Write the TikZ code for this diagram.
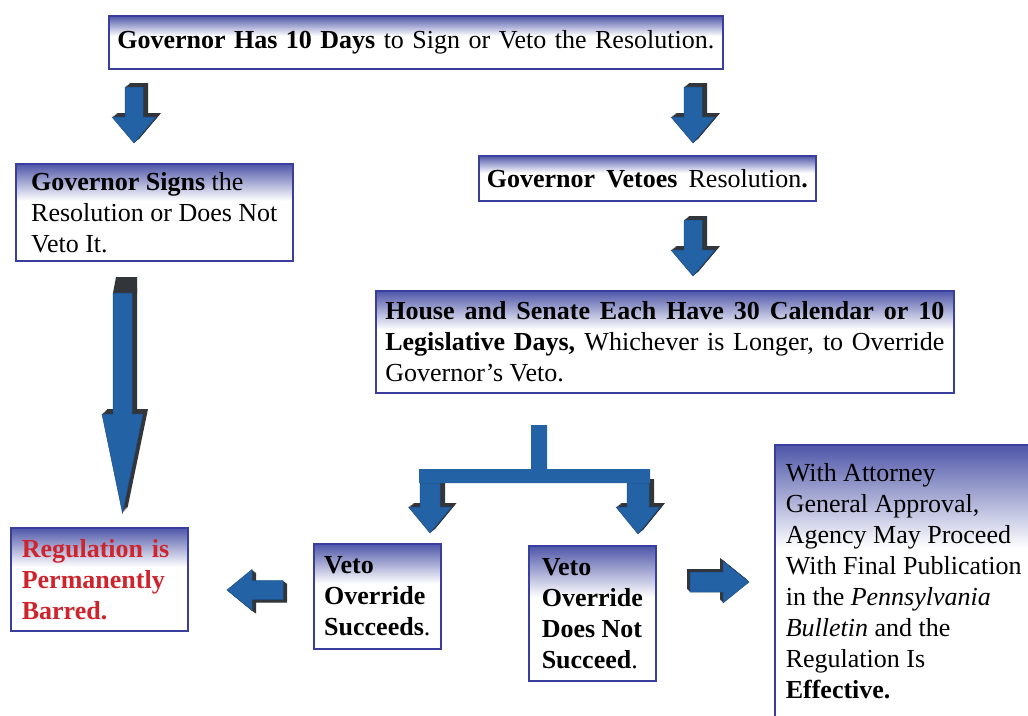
\documentclass[tikz,border=0pt]{standalone}
\usepackage{fontspec}
\setmainfont{Liberation Serif}
\definecolor{boxline}{RGB}{58,62,158}
\definecolor{boxtop}{RGB}{78,86,168}
\definecolor{arrowblue}{RGB}{36,98,166}
\definecolor{arrowdepth}{RGB}{50,53,58}
\definecolor{barredred}{RGB}{208,36,44}
\pgfdeclareverticalshading{boxfade}{100bp}{color(0bp)=(white); color(25bp)=(white); color(56bp)=(white); color(75bp)=(boxtop); color(100bp)=(boxtop)}
\tikzset{stepbox/.style={draw=boxline, line width=1.6pt, shade, shading=boxfade, anchor=north west, inner sep=0pt, align=left, font=\fontsize{26}{31}\selectfont}}
\tikzset{arrowbody/.style={fill=arrowblue, draw=arrowblue!80!black, line width=0.5pt}}
\tikzset{arrowshade/.style={fill=arrowdepth}}
% start, angle, head, tip, half shaft, half head, depth x, depth y
\newcommand{\blockarrow}[8]{%
    \foreach \k in {1,...,6}
        \fill[arrowshade, xshift=\k*#7/6, yshift=\k*#8/6, shift={#1}, rotate=#2]
            (0,-#5) -- (#3,-#5) -- (#3,-#6) -- (#4,0) -- (#3,#6) -- (#3,#5) -- (0,#5) -- cycle;
    \filldraw[arrowbody, shift={#1}, rotate=#2]
        (0,-#5) -- (#3,-#5) -- (#3,-#6) -- (#4,0) -- (#3,#6) -- (#3,#5) -- (0,#5) -- cycle;
}

\begin{document}
\begin{tikzpicture}[x=1pt, y=-1pt]
    \useasboundingbox (0,0) rectangle (1028,715);
    \clip (0,0) rectangle (1028,715);
    \fill[white] (0,0) rectangle (1028,715);

    \node[stepbox, align=center, minimum width=614pt, minimum height=53pt] (days) at (108,15)
        {\makebox[597pt][s]{\textbf{Governor Has 10 Days} to Sign or Veto the Resolution.}};
    \node[stepbox, minimum width=277pt, minimum height=97pt] (signs) at (15,163)
        {\textbf{Governor Signs} the\\Resolution or Does Not\\Veto It.};
    \node[stepbox, align=center, minimum width=337pt, minimum height=45pt] (vetoes) at (478,155)
        {\makebox[321pt][s]{\textbf{Governor Vetoes} Resolution\textbf{.}}};
    \node[stepbox, align=justify, text width=559pt, minimum width=578pt, minimum height=102pt] (house) at (375,290)
        {\textbf{House and Senate Each Have 30 Calendar or 10}\linebreak
         \textbf{Legislative Days,} Whichever is Longer, to Override\linebreak
         Governor’s Veto.};
    \node[stepbox, text=barredred, text width=155pt, minimum width=177pt, minimum height=103pt] (barred) at (10,527)
        {\textbf{Regulation is}\\\textbf{Permanently}\\\textbf{Barred.}};
    \node[stepbox, minimum width=127pt, minimum height=105pt] (succeeds) at (313,543)
        {\textbf{Veto}\\\textbf{Override}\\\textbf{Succeeds}.};
    \node[stepbox, minimum width=127pt, minimum height=135pt] (fails) at (528,545)
        {\textbf{Veto}\\\textbf{Override}\\\textbf{Does Not}\\\textbf{Succeed}.};
    \node[stepbox, inner xsep=11pt, minimum height=272pt] (effective) at (774,444)
        {With Attorney\\General Approval,\\Agency May Proceed\\With Final Publication\\
         in the \textit{Pennsylvania}\\\textit{Bulletin} and the\\Regulation Is\\\textbf{Effective.}};

    % arrows
    \blockarrow{(134,87)}{-90}{30}{56}{9}{22}{5pt}{4pt}
    \blockarrow{(693,87)}{-90}{30}{56}{9}{22}{5pt}{4pt}
    \blockarrow{(693,220)}{-90}{30}{56}{9}{22}{5pt}{4pt}
    \fill[arrowshade] (113,293) -- (116,277) -- (137,277) -- (137,293) -- cycle;
    \blockarrow{(122.5,293)}{-90}{121}{220}{9.5}{20.5}{5pt}{5pt}
    \blockarrow{(430,483)}{-90}{24}{50}{10}{21.5}{5pt}{4pt}
    \blockarrow{(638,483)}{-90}{24}{51}{11}{22}{5pt}{4pt}
    \fill[arrowblue] (531,425) -- (547,425) -- (547,469) -- (650,469) -- (650,483)
        -- (419,483) -- (419,469) -- (531,469) -- cycle;
    \blockarrow{(283,590)}{180}{31}{56}{9.5}{20.5}{4pt}{-3pt}
    \blockarrow{(690,582)}{0}{33}{59}{10}{21}{-3pt}{3pt}
\end{tikzpicture}
\end{document}
